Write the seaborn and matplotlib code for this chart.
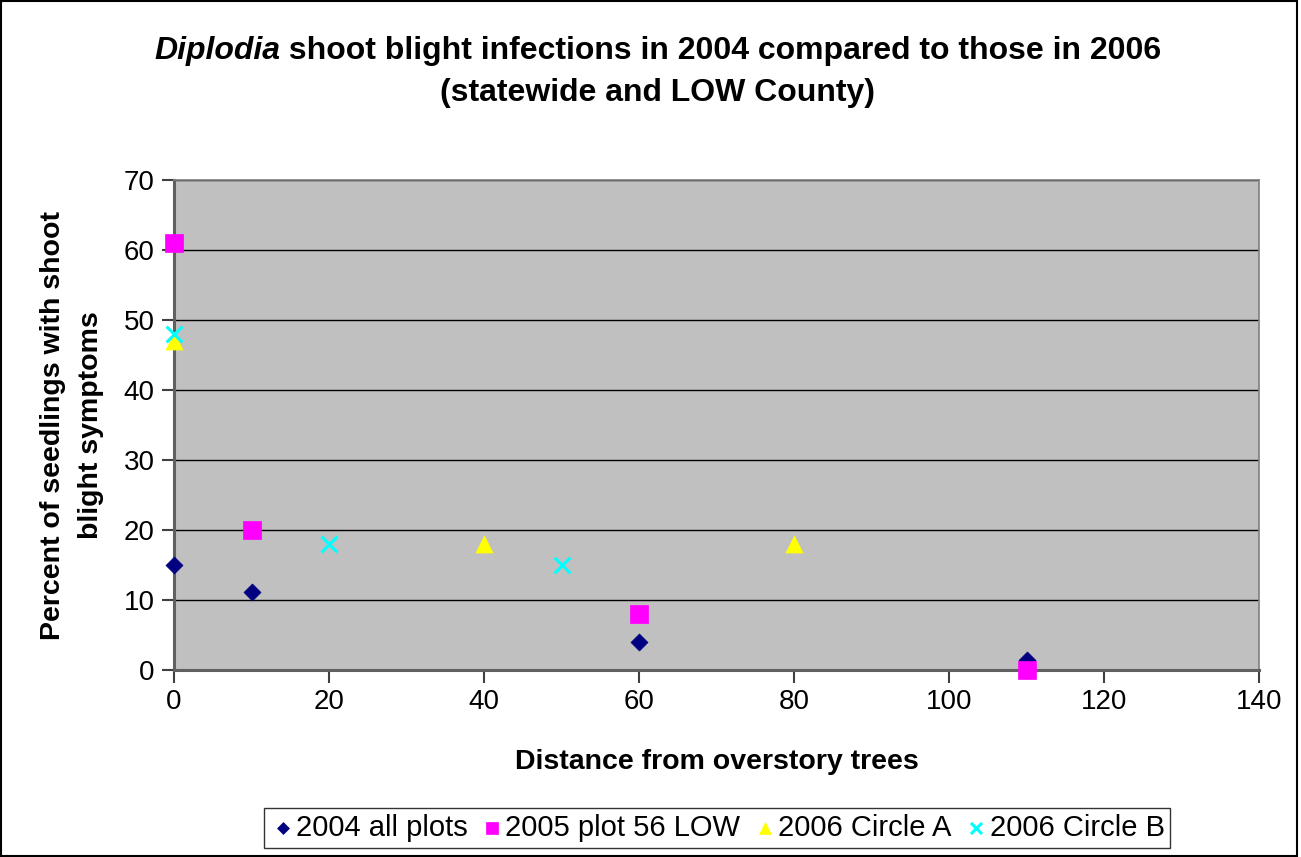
import matplotlib
matplotlib.use("Agg")
import matplotlib.pyplot as plt
import seaborn as sns
import pandas as pd
from matplotlib.patches import Rectangle

# Survey data: distance from overstory trees vs. percent seedlings with blight
x_2004 = [0, 10, 60, 110]
y_2004 = [15, 11.2, 4, 1.5]

x_2005 = [0, 10, 60, 110]
y_2005 = [61, 20, 8, 0]

x_2006a = [0, 40, 80]
y_2006a = [47, 18, 18]

x_2006b = [0, 20, 50]
y_2006b = [48, 18, 15]

series_names = ["2004 all plots", "2005 plot 56 LOW", "2006 Circle A", "2006 Circle B"]

sns.set_theme(style="white")
plt.rcParams["font.family"] = ["Liberation Sans", "DejaVu Sans"]
plt.rcParams["text.color"] = "black"
plt.rcParams["axes.labelcolor"] = "black"
plt.rcParams["xtick.color"] = "black"
plt.rcParams["ytick.color"] = "black"

fig = plt.figure(figsize=(13.01, 8.57), dpi=100)
ax = fig.add_axes([174 / 1301, 1 - 670 / 857, (1259 - 174) / 1301, (670 - 180) / 857])
ax.set_facecolor("#c0c0c0")

frames = [
    pd.DataFrame({"x": x_2004, "y": y_2004, "s": series_names[0]}),
    pd.DataFrame({"x": x_2005, "y": y_2005, "s": series_names[1]}),
    pd.DataFrame({"x": x_2006a, "y": y_2006a, "s": series_names[2]}),
    pd.DataFrame({"x": x_2006b, "y": y_2006b, "s": series_names[3]}),
]
styles = [
    dict(marker="D", color="#000080", s=75, edgecolor="#000080", linewidth=0.5),
    dict(marker="s", color="#ff00ff", s=150, edgecolor="#ff00ff", linewidth=0.5),
    dict(marker="^", color="#ffff00", s=150, edgecolor="#ffff00", linewidth=0.5),
    dict(marker="x", color="#00ffff", s=130, linewidth=2.2),
]
for df, st in zip(frames, styles):
    sns.scatterplot(data=df, x="x", y="y", ax=ax, label=df["s"].iloc[0],
                    zorder=3, clip_on=False, **st)

ax.set_xlim(0, 140)
ax.set_ylim(0, 70)
ax.set_xticks(range(0, 141, 20))
ax.set_yticks(range(0, 71, 10))
ax.yaxis.grid(True, color="black", linewidth=1.0)
ax.xaxis.grid(False)
ax.set_axisbelow(True)

for side in ["left", "bottom"]:
    ax.spines[side].set_color("#606060")
    ax.spines[side].set_linewidth(2.2)
for side in ["top", "right"]:
    ax.spines[side].set_color("#808080")
    ax.spines[side].set_linewidth(1.2)

ax.tick_params(axis="both", which="major", direction="out", length=9, width=1.5,
               color="#404040", labelcolor="black", labelsize=20, pad=5,
               left=True, bottom=True)

ax.set_xlabel("Distance from overstory trees", fontsize=20.5, fontweight="bold",
              labelpad=24, color="black")
ax.set_ylabel("Percent of seedlings with shoot\nblight symptoms", fontsize=20.5,
              fontweight="bold", labelpad=14, linespacing=1.6, color="black")

# Legend at the bottom in a single row
leg = ax.legend(loc="center", bbox_to_anchor=(717 / 1301, 1 - 828 / 857),
                bbox_transform=fig.transFigure, ncol=4, frameon=True, fontsize=21,
                handletextpad=0.0, columnspacing=0.4, borderpad=0.2,
                fancybox=False, shadow=False, markerscale=0.7, handlelength=0.9)
leg.get_frame().set_edgecolor("black")
leg.get_frame().set_linewidth(1.0)
for txt in leg.get_texts():
    txt.set_color("black")

# Title: italic genus name followed by the rest in bold
fig.canvas.draw()
renderer = fig.canvas.get_renderer()
title_y = 1 - 51 / 857
t1 = fig.text(0, title_y, "Diplodia", fontsize=23, fontweight="bold", style="italic",
              ha="left", va="center", color="black")
t2 = fig.text(0, title_y, " shoot blight infections in 2004 compared to those in 2006",
              fontsize=23, fontweight="bold", ha="left", va="center", color="black")
w1 = t1.get_window_extent(renderer).width
w2 = t2.get_window_extent(renderer).width
start = 658 - (w1 + w2) / 2
t1.set_x(start / 1301)
t2.set_x((start + w1) / 1301)
fig.text(658 / 1301, 1 - 93 / 857, "(statewide and LOW County)", fontsize=23,
         fontweight="bold", ha="center", va="center", color="black")

# Outer chart border
fig.patches.append(Rectangle((0.0008, 0.001), 0.9965, 0.998, transform=fig.transFigure,
                             fill=False, edgecolor="black", linewidth=1.5))

fig.savefig("out.png", dpi=100)
